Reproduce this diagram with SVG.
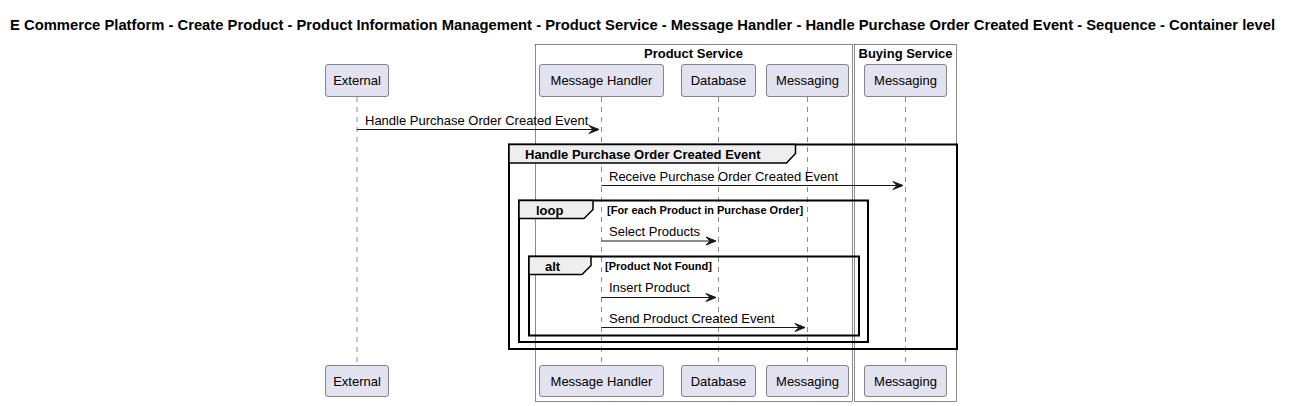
<svg xmlns="http://www.w3.org/2000/svg" width="1292" height="406" viewBox="0 0 1292 406">
<defs>
<style>
text{font-family:"Liberation Sans",Arial,sans-serif;fill:#000}
.title{font-size:14px;font-weight:bold}
.boxt{font-size:13px;font-weight:bold}
.pt{font-size:13px}
.msg{font-size:13px}
.fh{font-size:13px;font-weight:bold}
.cond{font-size:11px;font-weight:bold}
.part{fill:#E2E2F0;stroke:#181818;stroke-width:0.5}
.cont{fill:none;stroke:#181818;stroke-width:0.5}
.life{stroke:#181818;stroke-width:0.5;stroke-dasharray:5,5}
.frame{fill:none;stroke:#000;stroke-width:2}
.tab{fill:#EEEEEE;stroke:#000;stroke-width:1.5}
.line{stroke:#181818;stroke-width:1}
.head{fill:#181818;stroke:#181818;stroke-width:1}
</style>
</defs>
<rect width="1292" height="406" fill="#fff"/>
<text class="title" x="10" y="30" textLength="1265" lengthAdjust="spacingAndGlyphs">E Commerce Platform - Create Product - Product Information Management - Product Service - Message Handler - Handle Purchase Order Created Event - Sequence - Container level</text>

<g id="box-product-service">
<rect class="cont" x="535.5" y="44.5" width="317" height="357"/>
<text class="boxt" x="693.5" y="58" text-anchor="middle">Product Service</text>
</g>
<g id="box-buying-service">
<rect class="cont" x="854.5" y="44.5" width="102" height="357"/>
<text class="boxt" x="905.5" y="58" text-anchor="middle">Buying Service</text>
</g>

<g id="lifelines">
<line class="life" x1="357" y1="97" x2="357" y2="366"/>
<line class="life" x1="601.5" y1="97" x2="601.5" y2="366"/>
<line class="life" x1="718.5" y1="97" x2="718.5" y2="366"/>
<line class="life" x1="807.5" y1="97" x2="807.5" y2="366"/>
<line class="life" x1="905.5" y1="97" x2="905.5" y2="366"/>
</g>

<g id="frame-group">
<rect class="frame" x="509" y="144.5" width="448" height="204.5"/>
<path class="tab" d="M509,144.5 L795.5,144.5 L795.5,153.5 L786.5,163 L509,163 Z"/>
<text class="fh" x="525" y="159">Handle Purchase Order Created Event</text>
</g>
<g id="frame-loop">
<rect class="frame" x="519" y="200.5" width="349" height="141.5"/>
<path class="tab" d="M519,200.5 L593,200.5 L593,209.5 L584,218.5 L519,218.5 Z"/>
<text class="fh" x="536" y="215">loop</text>
<text class="cond" x="607" y="214">[For each Product in Purchase Order]</text>
</g>
<g id="frame-alt">
<rect class="frame" x="529" y="256.5" width="330" height="79"/>
<path class="tab" d="M529,256.5 L591,256.5 L591,265.5 L582,274.5 L529,274.5 Z"/>
<text class="fh" x="545" y="271">alt</text>
<text class="cond" x="605" y="270">[Product Not Found]</text>
</g>

<g id="participant-external">
<rect class="part" x="325.5" y="64.5" width="63" height="32" rx="2.5"/>
<text class="pt" x="357" y="85" text-anchor="middle">External</text>
<rect class="part" x="325.5" y="365.5" width="63" height="31" rx="2.5"/>
<text class="pt" x="357" y="386" text-anchor="middle">External</text>
</g>
<g id="participant-message-handler">
<rect class="part" x="539.5" y="64.5" width="124" height="32" rx="2.5"/>
<text class="pt" x="601.5" y="85" text-anchor="middle">Message Handler</text>
<rect class="part" x="539.5" y="365.5" width="124" height="31" rx="2.5"/>
<text class="pt" x="601.5" y="386" text-anchor="middle">Message Handler</text>
</g>
<g id="participant-database">
<rect class="part" x="681.5" y="64.5" width="74" height="32" rx="2.5"/>
<text class="pt" x="718.5" y="85" text-anchor="middle">Database</text>
<rect class="part" x="681.5" y="365.5" width="74" height="31" rx="2.5"/>
<text class="pt" x="718.5" y="386" text-anchor="middle">Database</text>
</g>
<g id="participant-messaging-ps">
<rect class="part" x="766.5" y="64.5" width="82" height="32" rx="2.5"/>
<text class="pt" x="807.5" y="85" text-anchor="middle">Messaging</text>
<rect class="part" x="766.5" y="365.5" width="82" height="31" rx="2.5"/>
<text class="pt" x="807.5" y="386" text-anchor="middle">Messaging</text>
</g>
<g id="participant-messaging-bs">
<rect class="part" x="864.5" y="64.5" width="82" height="32" rx="2.5"/>
<text class="pt" x="905.5" y="85" text-anchor="middle">Messaging</text>
<rect class="part" x="864.5" y="365.5" width="82" height="31" rx="2.5"/>
<text class="pt" x="905.5" y="386" text-anchor="middle">Messaging</text>
</g>

<g id="connectors">
<line class="line" x1="357" y1="129.5" x2="598" y2="129.5"/>
<path class="head" d="M589,125.5 L599,129.5 L589,133.5 L593,129.5 Z"/>
<text class="msg" x="365" y="125">Handle Purchase Order Created Event</text>
<line class="line" x1="601.5" y1="185.5" x2="902" y2="185.5"/>
<path class="head" d="M893,181.5 L903,185.5 L893,189.5 L897,185.5 Z"/>
<text class="msg" x="609" y="181">Receive Purchase Order Created Event</text>
<line class="line" x1="601.5" y1="241" x2="715" y2="241"/>
<path class="head" d="M706,237 L716,241 L706,245 L710,241 Z"/>
<text class="msg" x="609" y="236">Select Products</text>
<line class="line" x1="601.5" y1="297.5" x2="715" y2="297.5"/>
<path class="head" d="M706,293.5 L716,297.5 L706,301.5 L710,297.5 Z"/>
<text class="msg" x="609" y="292">Insert Product</text>
<line class="line" x1="601.5" y1="327.5" x2="804" y2="327.5"/>
<path class="head" d="M795,323.5 L805,327.5 L795,331.5 L799,327.5 Z"/>
<text class="msg" x="609" y="323">Send Product Created Event</text>
</g>
</svg>
